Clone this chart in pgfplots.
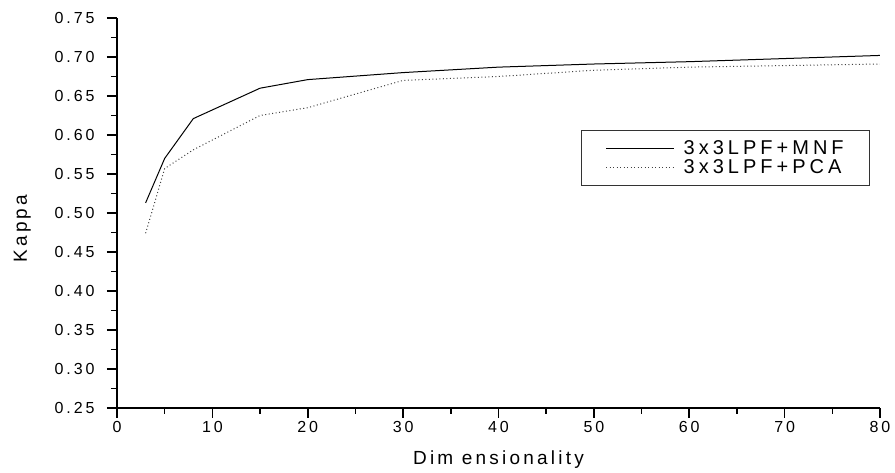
\documentclass[border=0pt]{standalone}
\usepackage{fontspec}
\setmainfont{Liberation Sans}
\newfontfamily\tickfont[LetterSpace=18]{Liberation Sans}
\newfontfamily\labfont[LetterSpace=17]{Liberation Sans}
\newfontfamily\legfont[LetterSpace=20]{Liberation Sans}
\usepackage{pgfplots}
\pgfplotsset{compat=1.18}
\begin{document}
\begin{tikzpicture}
\useasboundingbox (-117pt,-65pt) rectangle (778pt,408pt);
\begin{axis}[
  at={(0pt,0pt)}, anchor=south west,
  scale only axis,
  width=763pt, height=390pt,
  xmin=0, xmax=80, ymin=0.25, ymax=0.75,
  axis lines=left,
  axis line style={line width=1.6pt, -},
  xtick={0,10,...,80},
  ytick={0.25,0.30,...,0.76},
  minor x tick num=1, minor y tick num=1,
  tick align=outside,
  major tick length=10pt, minor tick length=6pt,
  every tick/.style={line width=1.6pt, black},
  /pgf/number format/assume math mode=true,
  yticklabel style={xshift=-9pt, /pgf/number format/.cd, fixed, fixed zerofill, precision=2},
  tick label style={font=\fontsize{16}{18}\tickfont},
  xlabel={Dim ensionality},
  ylabel={Kappa},
  xlabel style={at={(axis description cs:0.5,-0.146)}, anchor=base, font=\fontsize{19}{22}\labfont},
  ylabel style={at={(axis description cs:-0.118,0.46)}, anchor=base, rotate=0, font=\fontsize{19}{22}\labfont},
  legend style={at={(rel axis cs:0.987,0.713)}, anchor=north east, draw=black!80, line width=0.8pt,
    font=\fontsize{20}{22}\legfont, inner xsep=24pt, inner ysep=8pt, row sep=0pt},
  legend cell align=left,
  legend image code/.code={\draw[#1, line width=1pt] (0pt,0pt) -- (68pt,0pt);},
]
\addplot[black, line width=1pt] coordinates {
 (3,0.513) (5,0.570) (8,0.621) (15,0.660) (20,0.671) (30,0.680) (40,0.687)
 (50,0.691) (60,0.694) (70,0.698) (80,0.702)};
\addlegendentry{\hspace{7pt}3x3LPF+MNF}
\addplot[black!75, line width=1pt, dash pattern=on 1pt off 2.5pt] coordinates {
 (3,0.474) (5,0.557) (8,0.581) (15,0.625) (20,0.635) (30,0.670) (40,0.675)
 (50,0.683) (60,0.687) (70,0.689) (80,0.691)};
\addlegendentry{\hspace{7pt}3x3LPF+PCA}
\end{axis}
\end{tikzpicture}
\end{document}
